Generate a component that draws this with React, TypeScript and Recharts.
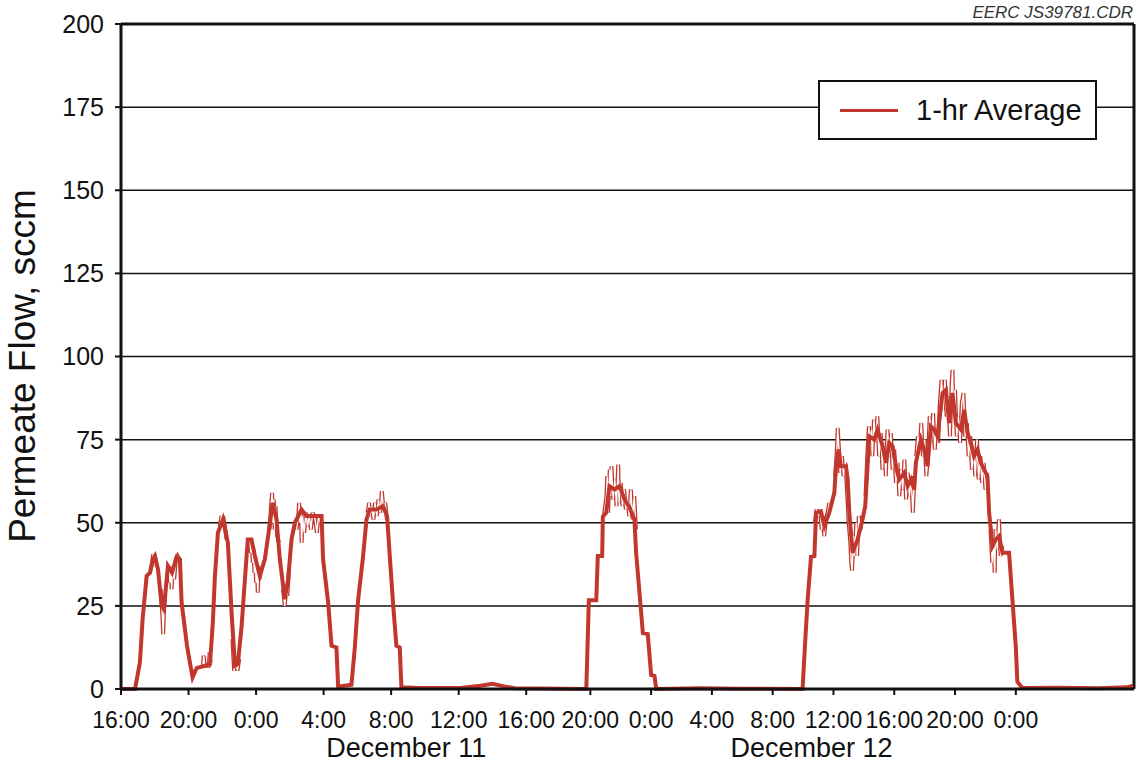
import React from 'react'
import { CartesianGrid, Legend, Line, LineChart, ReferenceLine, XAxis, YAxis } from 'recharts'

const RED = '#c1372d'
const INK = '#111'
const FONT = '"Liberation Sans", Arial, Helvetica, sans-serif'

// x is hours on the plot's own scale, 0 = 16:00 Dec 10 (original axis is not evenly spaced after Dec 11 16:00)
const timeTicks = [0, 4, 8, 12, 16, 20, 24, 27.8, 31.4, 35, 38.6, 42.2, 45.8, 49.4, 53]
const timeLabels = ['16:00', '20:00', '0:00', '4:00', '8:00', '12:00', '16:00', '20:00', '0:00', '4:00', '8:00', '12:00', '16:00', '20:00', '0:00']
const flowTicks = [0, 25, 50, 75, 100, 125, 150, 175, 200]
const dayLabels = [
  { text: 'December 11', h: 16.9 },
  { text: 'December 12', h: 40.9 },
]

// 1-hr average, [hour, sccm]
const hourlyAverage: [number, number][] = [
  [0, 0], [0.83, 0], [1.12, 8], [1.28, 21], [1.52, 34], [1.72, 35], [1.89, 39], [2.01, 40], [2.19, 36],
  [2.41, 25], [2.54, 24], [2.78, 37], [3.02, 35], [3.3, 39.7], [3.49, 39], [3.59, 26], [3.91, 13],
  [4.08, 8], [4.24, 3.5], [4.48, 6.3], [4.97, 7], [5.27, 7.5], [5.44, 20], [5.56, 33.7], [5.74, 47],
  [6.04, 51], [6.33, 44], [6.55, 23], [6.75, 7], [6.92, 7.5], [7.14, 18.7], [7.34, 33], [7.51, 45],
  [7.73, 45], [7.93, 40], [8.22, 34], [8.52, 39], [8.7, 45.5], [8.98, 56], [9.21, 51], [9.41, 39],
  [9.7, 27], [9.9, 33], [10.1, 45], [10.3, 50], [10.69, 54], [10.99, 52], [11.36, 52], [11.88, 52],
  [11.97, 39], [12.27, 26], [12.47, 13], [12.76, 12.5], [12.86, 0.7], [13.65, 1.3], [13.85, 12.5],
  [14.04, 26.5], [14.34, 40], [14.54, 51], [14.73, 54], [15.13, 54], [15.52, 55], [15.76, 52],
  [15.92, 40], [16.11, 26], [16.31, 13], [16.51, 12.5], [16.61, 0.5], [17.7, 0.3], [20.1, 0.3],
  [21.3, 1.0], [22.0, 1.6], [22.7, 0.8], [23.3, 0.2], [27.56, 0],
  [27.71, 26.7], [28.15, 26.7], [28.24, 40], [28.5, 40], [28.54, 51.8], [28.74, 53], [28.93, 61],
  [29.23, 60], [29.53, 61], [29.82, 57], [30.12, 54.6], [30.41, 51], [30.51, 41], [30.71, 29],
  [30.91, 16.8], [31.2, 16.5], [31.4, 4.2], [31.6, 3.9], [31.7, 0], [34.26, 0.2], [36.6, 0.1], [40.37, 0],
  [40.53, 14.7], [40.67, 26.8], [40.87, 39.8], [41.07, 40], [41.17, 53], [41.46, 53.4], [41.66, 49],
  [41.95, 53], [42.25, 59], [42.35, 67], [42.5, 72], [42.64, 67], [42.94, 67], [43.04, 63], [43.14, 53],
  [43.33, 41], [43.63, 45], [43.92, 51], [44.08, 55], [44.22, 67], [44.32, 76], [44.62, 75], [44.81, 78],
  [45.11, 73], [45.31, 68], [45.5, 74], [45.7, 73], [45.9, 67], [46.09, 63], [46.39, 65], [46.59, 61],
  [46.79, 63], [46.98, 60], [47.08, 68], [47.38, 75], [47.57, 72], [47.77, 67], [47.97, 79], [48.17, 78],
  [48.36, 76], [48.66, 89], [48.86, 90], [49.05, 80], [49.25, 89], [49.45, 80], [49.75, 78], [49.94, 84],
  [50.14, 77], [50.34, 74], [50.53, 70], [50.73, 72], [50.93, 68], [51.12, 66], [51.32, 64], [51.42, 53],
  [51.62, 43], [51.82, 45], [52.01, 46], [52.21, 41], [52.6, 41], [52.8, 26.8], [53.0, 12.7], [53.09, 2.2],
  [53.39, 0.3], [55.56, 0.4], [57.9, 0.2], [59.6, 0.5], [59.94, 1.0],
]

// raw readings where they stray from the average, one list per burst
const rawBursts: [number, number][][] = [
  [[1.75, 36], [1.85, 38], [1.9, 40.5], [1.95, 37], [2.0, 40], [2.08, 38]],
  [[2.35, 30], [2.45, 22], [2.5, 16.5], [2.55, 24], [2.62, 28]],
  [[2.85, 36], [2.9, 32], [2.95, 37], [3.0, 30], [3.05, 36], [3.15, 33], [3.25, 39], [3.35, 40], [3.45, 39]],
  [[4.85, 7], [4.9, 10], [4.95, 7], [5.2, 7], [5.25, 11], [5.3, 8]],
  [[5.85, 49], [5.95, 52], [6.0, 50], [6.05, 52], [6.15, 49], [6.25, 45]],
  [[6.6, 15], [6.7, 5.5], [6.8, 8], [6.9, 5.5], [7.0, 9]],
  [[7.6, 45], [7.7, 41], [7.75, 44], [7.8, 38], [7.85, 42], [7.9, 35], [7.95, 40], [8.0, 32], [8.05, 37], [8.1, 29], [8.15, 35], [8.2, 33], [8.3, 37]],
  [[8.8, 48], [8.9, 56], [8.95, 59], [9.0, 50], [9.05, 57], [9.1, 48], [9.15, 55], [9.25, 46], [9.35, 44]],
  [[9.6, 30], [9.7, 25], [9.8, 31], [9.85, 28], [9.95, 36]],
  [[10.4, 48], [10.5, 52], [10.55, 56], [10.6, 50], [10.65, 53], [10.7, 44], [10.75, 52], [10.85, 47], [10.95, 53], [11.05, 49], [11.15, 52], [11.25, 48], [11.35, 53], [11.5, 51], [11.6, 47], [11.7, 52], [11.8, 50]],
  [[14.6, 53], [14.7, 56], [14.75, 52], [14.85, 55], [14.95, 51], [15.05, 56], [15.15, 52], [15.25, 57], [15.35, 53], [15.45, 59.5], [15.55, 54], [15.65, 56], [15.75, 51]],
  [[28.6, 52], [28.75, 58], [28.8, 64], [28.85, 53], [28.95, 66], [29.0, 58], [29.05, 67], [29.15, 57], [29.25, 63], [29.35, 55], [29.45, 67.5], [29.5, 56], [29.6, 62], [29.7, 55], [29.8, 60], [29.9, 54], [30.0, 57], [30.1, 52], [30.2, 60], [30.3, 51], [30.4, 58], [30.5, 48]],
  [[41.1, 50], [41.2, 54], [41.3, 52], [41.4, 54], [41.5, 48], [41.55, 52], [41.65, 46], [41.75, 51], [41.85, 53], [41.95, 56]],
  [[42.3, 64], [42.4, 72], [42.45, 78.5], [42.55, 70], [42.6, 65], [42.7, 70], [42.8, 64], [42.9, 68], [43.0, 60], [43.1, 50], [43.2, 44], [43.25, 38], [43.3, 35.6], [43.4, 46], [43.45, 40], [43.55, 50], [43.6, 40], [43.7, 52], [43.8, 48], [43.9, 52]],
  [[44.1, 58], [44.2, 70], [44.3, 79], [44.35, 72], [44.45, 78], [44.5, 70], [44.6, 81], [44.7, 74], [44.8, 82], [44.9, 70], [45.0, 77], [45.1, 66], [45.2, 74], [45.3, 64], [45.4, 78], [45.5, 70], [45.6, 77], [45.7, 66], [45.8, 72], [45.9, 62], [46.0, 68], [46.1, 58], [46.2, 66], [46.3, 60], [46.4, 69], [46.5, 57], [46.6, 65], [46.7, 58], [46.8, 64], [46.9, 53], [47.0, 64]],
  [[47.1, 70], [47.2, 76], [47.3, 72], [47.4, 80], [47.5, 70], [47.6, 75], [47.7, 64], [47.8, 70], [47.9, 82], [48.0, 74], [48.1, 83], [48.2, 72], [48.3, 79], [48.4, 74], [48.5, 86], [48.6, 93], [48.7, 84], [48.8, 93], [48.9, 82], [49.0, 88], [49.1, 76], [49.2, 92], [49.25, 96], [49.3, 84], [49.4, 90], [49.5, 76], [49.6, 82], [49.7, 74], [49.8, 86], [49.9, 89], [50.0, 76], [50.1, 80], [50.2, 70], [50.3, 76], [50.4, 66], [50.5, 72], [50.6, 64], [50.7, 75], [50.8, 63], [50.9, 70], [51.0, 62], [51.1, 68], [51.2, 60], [51.3, 65]],
  [[51.5, 48], [51.6, 38], [51.65, 46], [51.75, 35], [51.8, 48], [51.9, 42], [52.0, 51], [52.1, 40], [52.2, 43]],
]

const avgData = hourlyAverage.map(([h, v]) => ({ h, v }))
const rawData: { h: number; v: number | null }[] = []
rawBursts.forEach((burst) => {
  burst.forEach(([h, v]) => rawData.push({ h, v }))
  rawData.push({ h: burst[burst.length - 1][0], v: null })
})

const LegendBox = () => (
  <div
    style={{
      boxSizing: 'border-box',
      width: 279,
      height: 60,
      border: `2px solid ${INK}`,
      background: '#fff',
      display: 'flex',
      alignItems: 'center',
      fontFamily: FONT,
      fontSize: 29,
      color: INK,
    }}
  >
    <span style={{ display: 'inline-block', width: 58, height: 3, background: RED, marginLeft: 20, marginRight: 18 }} />
    <span>1-hr Average</span>
  </div>
)

const App = () => {
  return (
    <div style={{ position: 'absolute', left: 0, top: 0, width: 1139, height: 766, background: '#fff', fontFamily: FONT }}>
      <div
        style={{
          position: 'absolute',
          right: 6,
          top: 3,
          fontSize: 17,
          fontStyle: 'italic',
          color: '#333',
          zIndex: 2,
        }}
      >
        EERC JS39781.CDR
      </div>
      <LineChart width={1139} height={766} margin={{ top: 24, right: 5, bottom: 0, left: 0 }}>
        <CartesianGrid vertical={false} stroke={INK} strokeWidth={1.5} />
        <XAxis
          type="number"
          dataKey="h"
          domain={[0, 60]}
          ticks={timeTicks}
          interval={0}
          height={77}
          tickFormatter={(_v: number, i: number) => timeLabels[i]}
          tick={{ fontSize: 23, fill: INK, fontFamily: FONT }}
          tickSize={6}
          tickMargin={17}
          axisLine={{ stroke: INK, strokeWidth: 3 }}
          tickLine={{ stroke: INK, strokeWidth: 2 }}
          label={{
            content: (props: any) => {
              const vb = props.viewBox
              return (
                <g>
                  {dayLabels.map((d) => (
                    <text
                      key={d.text}
                      x={vb.x + (d.h / 60) * vb.width}
                      y={vb.y + 68}
                      textAnchor="middle"
                      fontSize={27}
                      fill={INK}
                      fontFamily={FONT}
                    >
                      {d.text}
                    </text>
                  ))}
                </g>
              )
            },
          }}
        />
        <YAxis
          type="number"
          domain={[0, 200]}
          ticks={flowTicks}
          interval={0}
          width={121}
          tick={{ fontSize: 25, fill: INK, fontFamily: FONT }}
          tickSize={6}
          tickMargin={11}
          axisLine={{ stroke: INK, strokeWidth: 3 }}
          tickLine={{ stroke: INK, strokeWidth: 2 }}
          label={{
            content: () => (
              <text
                x={35}
                y={366}
                transform="rotate(-90, 35, 366)"
                textAnchor="middle"
                fontSize={37}
                fill={INK}
                fontFamily={FONT}
              >
                Permeate Flow, sccm
              </text>
            ),
          }}
        />
        <ReferenceLine y={200} stroke={INK} strokeWidth={3} />
        <ReferenceLine x={60} stroke={INK} strokeWidth={3} />
        <Line data={rawData} dataKey="v" stroke={RED} strokeWidth={4} dot={false} isAnimationActive={false} connectNulls={false} />
        <Line data={rawData} dataKey="v" stroke="#fff" strokeWidth={1.4} dot={false} isAnimationActive={false} connectNulls={false} />
        <Line data={avgData} dataKey="v" name="1-hr Average" stroke={RED} strokeWidth={4} dot={false} isAnimationActive={false} />
        <Legend
          layout="horizontal"
          verticalAlign="middle"
          align="center"
          content={() => <LegendBox />}
          wrapperStyle={{ position: 'absolute', left: 818, top: 80, width: 279, height: 60 }}
        />
      </LineChart>
    </div>
  )
}

export default App
